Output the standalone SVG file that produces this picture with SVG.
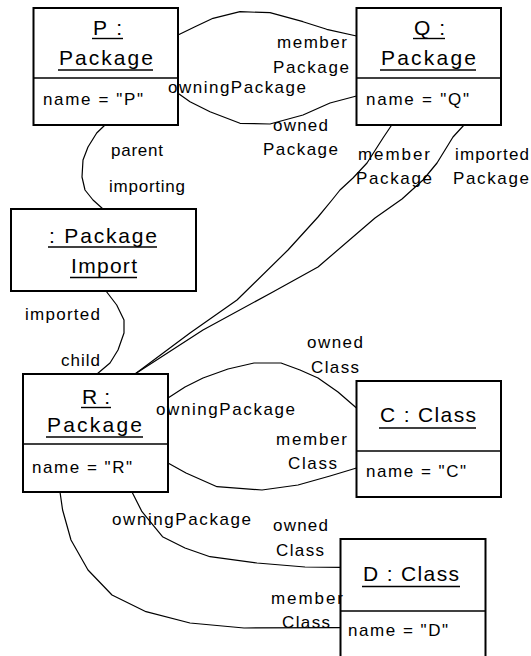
<svg xmlns="http://www.w3.org/2000/svg" width="531" height="656" viewBox="0 0 531 656">
<style>
  text { font-family: "Liberation Sans", Arial, sans-serif; fill: #000; }
  .box { fill: #fff; stroke: #000; stroke-width: 2; }
  .div { stroke: #000; stroke-width: 1.6; }
  .u { stroke: #000; stroke-width: 1.4; }
  .h { font-size: 21px; }
  .a { font-size: 17px; }
  .l { font-size: 17px; }
  .c { fill: none; stroke: #000; stroke-width: 1.2; stroke-linejoin: round; stroke-linecap: round; }
</style>
<rect width="531" height="656" fill="#fff"/>
<g id="connectors">
  <polyline class="c" points="178,35 195,26.7 213,18.3 240,11.7 270,12.7 303,21.7 326.7,29.3 356.5,36"/>
  <polyline class="c" points="178,93.3 190,101.7 210,111.7 240,123.3 270,124 303,115 330,103 356.5,96"/>
  <polyline class="c" points="105,125 96.7,133 88,147 83,160 82,177 85,190 93,200 103,209"/>
  <polyline class="c" points="106,291 116.7,305 124,320 124,333 118,350 110,363 97,374"/>
  <polyline class="c" points="391.7,125 383,138 367,163 353,178 340,190 332,200 318,217 288,250 237,300 190,333 135,374"/>
  <polyline class="c" points="464,125 453,137 437,163 423,180 402,199 375,218 318,267 271,293 203,330 135,374"/>
  <polyline class="c" points="168,398 185,387 203,378 228,369 254,363 281,363 300,370 318,378 338,392 356.5,408"/>
  <polyline class="c" points="168,463 186,473 217,486.7 262,490 298,485 330,476 356.5,468"/>
  <polyline class="c" points="132,492 142,511.7 162.5,536.7 185,548 210,556.7 257,563 305,567 340.5,567.3"/>
  <polyline class="c" points="60,492 62.6,510 71,540 88,570 112,595 146,611.7 190,623 244,628 340.5,627.7"/>
</g>
<g id="P">
  <rect class="box" x="33.5" y="8" width="144.5" height="117"/>
  <line class="div" x1="33.5" y1="78" x2="178" y2="78"/>
  <text class="h" x="93" y="35" textLength="29">P :</text>
  <text class="h" x="59" y="65" textLength="94">Package</text>
  <line class="u" x1="92" y1="38.5" x2="123" y2="38.5"/>
  <line class="u" x1="58" y1="70" x2="153" y2="70"/>
  <text class="a" x="43" y="105" textLength="100">name = "P"</text>
</g>
<g id="Q">
  <rect class="box" x="356.5" y="8" width="144.5" height="117"/>
  <line class="div" x1="356.5" y1="78" x2="501" y2="78"/>
  <text class="h" x="414" y="35" textLength="31">Q :</text>
  <text class="h" x="381" y="65" textLength="95">Package</text>
  <line class="u" x1="413" y1="38.5" x2="445" y2="38.5"/>
  <line class="u" x1="380" y1="70" x2="476" y2="70"/>
  <text class="a" x="366" y="105" textLength="103">name = "Q"</text>
</g>
<g id="PackageImport">
  <rect class="box" x="11" y="209" width="185" height="82"/>
  <text class="h" x="49" y="243" textLength="108">: Package</text>
  <text class="h" x="71" y="273" textLength="66">Import</text>
  <line class="u" x1="48" y1="247" x2="157" y2="247"/>
  <line class="u" x1="70" y1="277.5" x2="137" y2="277.5"/>
</g>
<g id="R">
  <rect class="box" x="23" y="374" width="145" height="118"/>
  <line class="div" x1="23" y1="444" x2="168" y2="444"/>
  <text class="h" x="82" y="404" textLength="28">R :</text>
  <text class="h" x="47" y="432" textLength="95">Package</text>
  <line class="u" x1="81" y1="407.5" x2="111" y2="407.5"/>
  <line class="u" x1="46" y1="437" x2="143" y2="437"/>
  <text class="a" x="32" y="473" textLength="100">name = "R"</text>
</g>
<g id="C">
  <rect class="box" x="356.5" y="381" width="144.5" height="116"/>
  <line class="div" x1="356.5" y1="451" x2="501" y2="451"/>
  <text class="h" x="380" y="422" textLength="96">C : Class</text>
  <line class="u" x1="379" y1="428" x2="476" y2="428"/>
  <text class="a" x="366" y="477" textLength="100">name = "C"</text>
</g>
<g id="D">
  <rect class="box" x="340.5" y="539" width="145" height="125"/>
  <line class="div" x1="340.5" y1="611" x2="485.5" y2="611"/>
  <text class="h" x="363" y="581" textLength="96">D : Class</text>
  <line class="u" x1="362" y1="586.5" x2="460" y2="586.5"/>
  <text class="a" x="348" y="636" textLength="100">name = "D"</text>
</g>
<g id="labels">
  <text class="l" x="277" y="48" textLength="70">member</text>
  <text class="l" x="273" y="73" textLength="76">Package</text>
  <text class="l" x="168" y="93" textLength="138">owningPackage</text>
  <text class="l" x="273" y="131" textLength="55">owned</text>
  <text class="l" x="263" y="155" textLength="75">Package</text>
  <text class="l" x="111" y="156" textLength="52">parent</text>
  <text class="l" x="109" y="192" textLength="76">importing</text>
  <text class="l" x="358" y="160" textLength="72">member</text>
  <text class="l" x="356" y="184" textLength="76">Package</text>
  <text class="l" x="455" y="160" textLength="74">imported</text>
  <text class="l" x="453" y="184" textLength="76">Package</text>
  <text class="l" x="25" y="320" textLength="75">imported</text>
  <text class="l" x="61" y="366" textLength="39">child</text>
  <text class="l" x="307" y="348" textLength="56">owned</text>
  <text class="l" x="311" y="373" textLength="48">Class</text>
  <text class="l" x="156" y="415" textLength="139">owningPackage</text>
  <text class="l" x="276" y="445" textLength="71">member</text>
  <text class="l" x="288" y="469" textLength="49">Class</text>
  <text class="l" x="112" y="525" textLength="139">owningPackage</text>
  <text class="l" x="273" y="531" textLength="55">owned</text>
  <text class="l" x="276" y="556" textLength="48">Class</text>
  <text class="l" x="271" y="604" textLength="72">member</text>
  <text class="l" x="282" y="628" textLength="48">Class</text>
</g>
</svg>
